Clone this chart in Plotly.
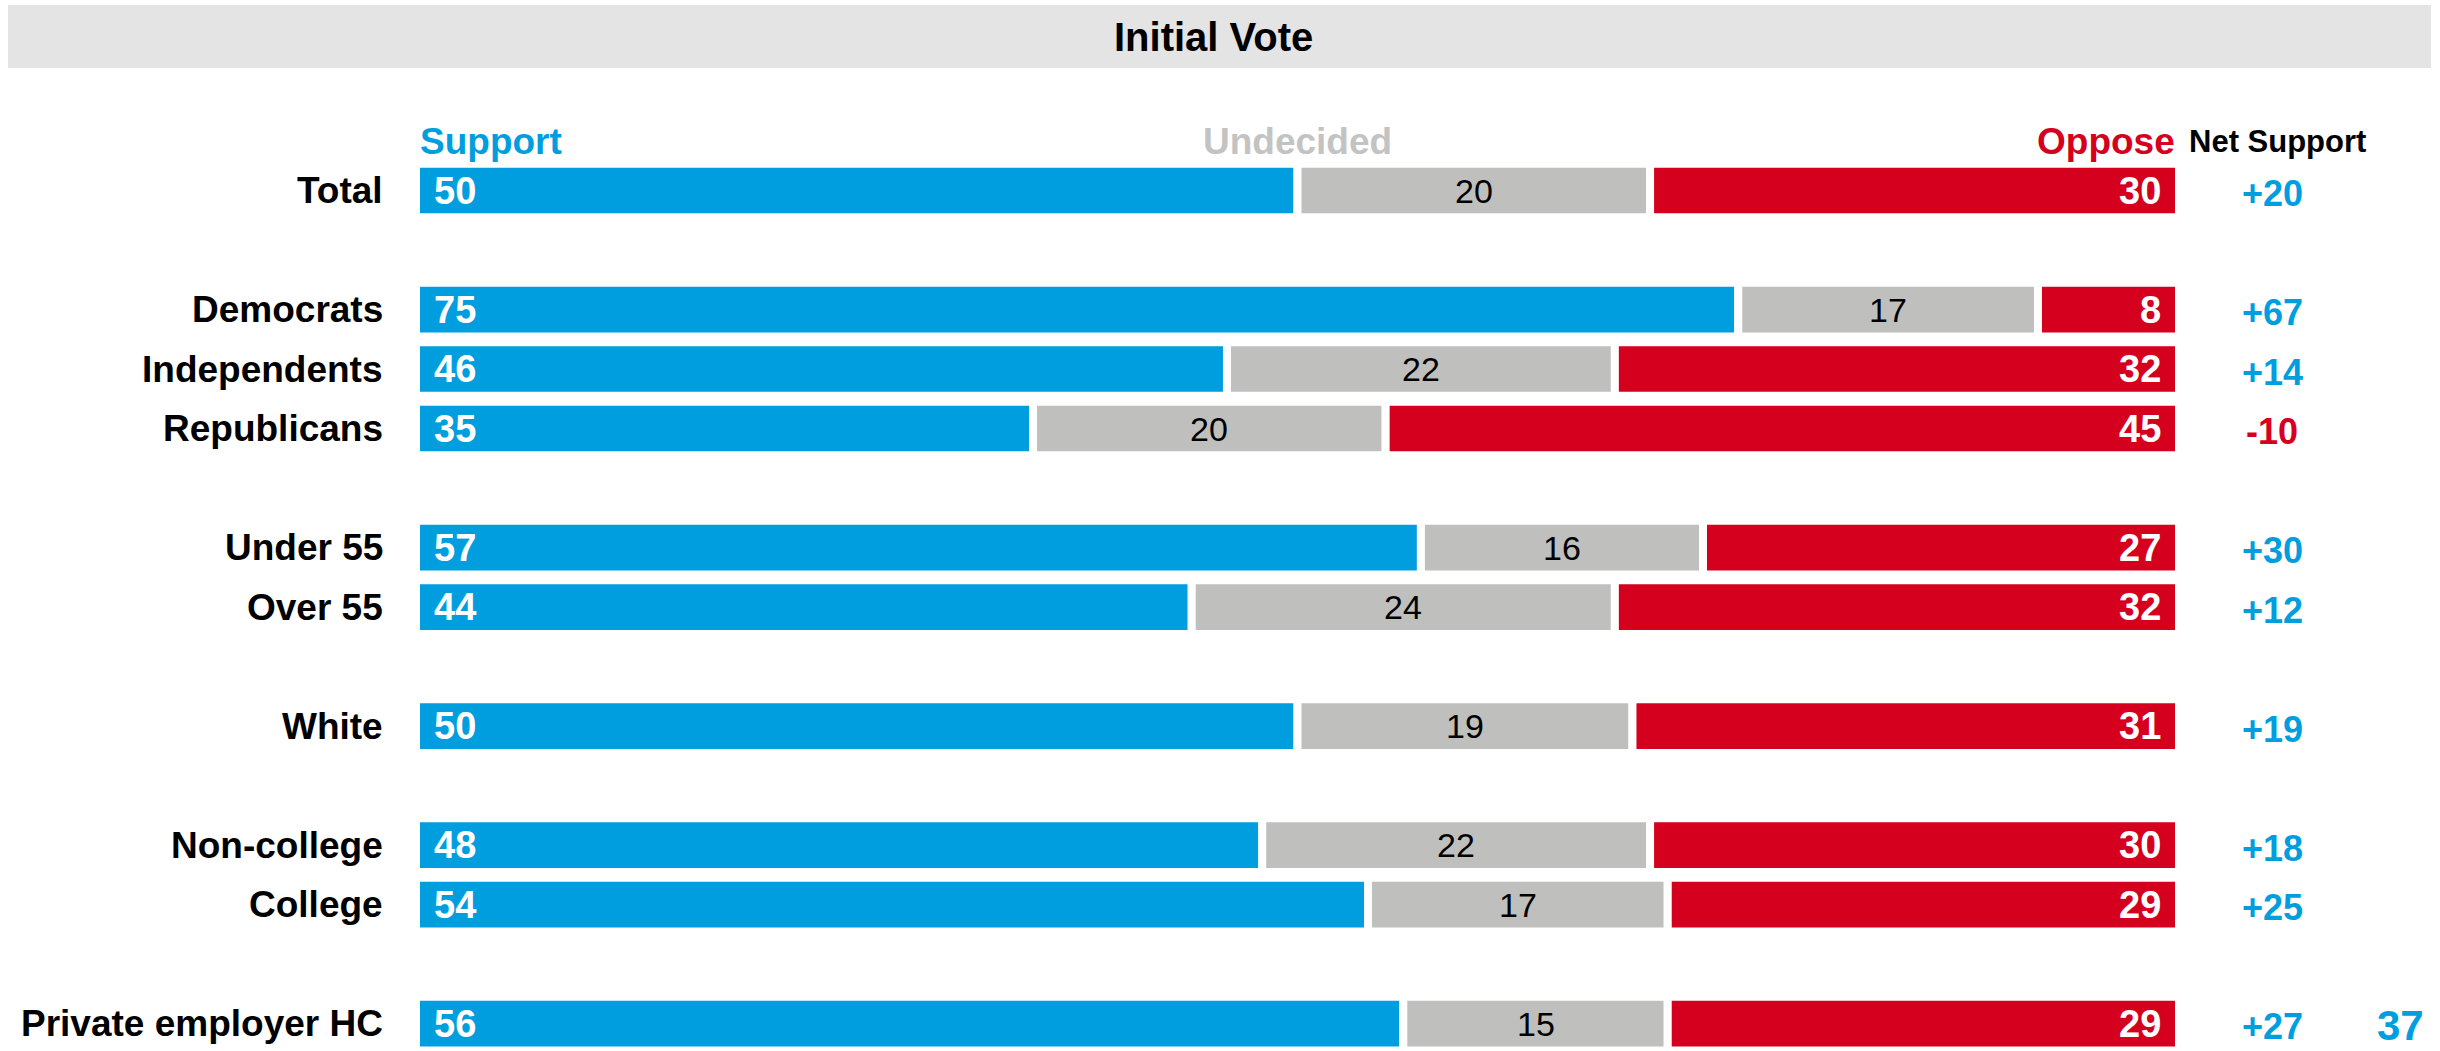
import plotly.graph_objects as go

# ---------------- data ----------------
categories = ["Total", "Democrats", "Independents", "Republicans", "Under 55", "Over 55",
              "White", "Non-college", "College", "Private employer HC"]
group_sizes = [1, 3, 2, 1, 2, 1]
support = [50, 75, 46, 35, 57, 44, 50, 48, 54, 56]
undecided = [20, 17, 22, 20, 16, 24, 19, 22, 17, 15]
oppose = [30, 8, 32, 45, 27, 32, 31, 30, 29, 29]
net_support = [20, 67, 14, -10, 30, 12, 19, 18, 25, 27]
title_text = "Initial Vote"
page_number = "37"

# ---------------- style ----------------
W, H = 2440, 1051
BLUE = "#009EDF"
GRAY = "#BFBFBD"
RED = "#D5001E"
HEAD_GRAY = "#C3C3C3"
FONT = "Liberation Sans, Arial, sans-serif"

# row slots: one empty slot between groups
slots = []
s = 0
for gi, n in enumerate(group_sizes):
    for _ in range(n):
        slots.append(s)
        s += 1
    s += 1

y0_px, unit_px = 190.6, 59.5
def px_to_slot(p):
    return (p - y0_px) / unit_px

def py(p):
    return 1 - p / H

fig = go.Figure()
bar_w = 0.9
line = dict(color="white", width=8)
starts_u = [a for a in support]
starts_o = [a + b for a, b in zip(support, undecided)]
fig.add_trace(go.Bar(y=slots, x=support, orientation="h", marker=dict(color=BLUE, line=line),
                     width=bar_w, hoverinfo="skip"))
fig.add_trace(go.Bar(y=slots, x=undecided, base=starts_u, orientation="h",
                     marker=dict(color=GRAY, line=line), width=bar_w, hoverinfo="skip"))
fig.add_trace(go.Bar(y=slots, x=oppose, base=starts_o, orientation="h",
                     marker=dict(color=RED, line=line), width=bar_w, hoverinfo="skip"))

ann = []
for i, cat in enumerate(categories):
    yv = slots[i]
    ann.append(dict(x=385 / W, xref="paper", y=yv, yref="y", text=f"<b>{cat}</b>",
                    xanchor="right", yanchor="middle", showarrow=False,
                    font=dict(family=FONT, size=37, color="black")))
    ann.append(dict(x=0, xref="x", y=yv, yref="y", text=f"<b>{support[i]}</b>",
                    xanchor="left", yanchor="middle", xshift=16, showarrow=False,
                    font=dict(family=FONT, size=38, color="white")))
    ann.append(dict(x=starts_u[i] + undecided[i] / 2, xref="x", y=yv, yref="y",
                    text=f"{undecided[i]}", xanchor="center", yanchor="middle", showarrow=False,
                    font=dict(family=FONT, size=34, color="black")))
    ann.append(dict(x=100, xref="x", y=yv, yref="y", text=f"<b>{oppose[i]}</b>",
                    xanchor="right", yanchor="middle", xshift=-16, showarrow=False,
                    font=dict(family=FONT, size=38, color="white")))
    n = net_support[i]
    ann.append(dict(x=2272 / W, xref="paper", y=yv, yref="y", yshift=-3,
                    text=f"<b>{n:+d}</b>", xanchor="center", yanchor="middle", showarrow=False,
                    font=dict(family=FONT, size=36, color=BLUE if n >= 0 else RED)))

# headers
ann.append(dict(x=0, xref="x", y=py(141), yref="paper", text="<b>Support</b>", xanchor="left",
                xshift=2, yanchor="middle", showarrow=False, font=dict(family=FONT, size=37, color=BLUE)))
ann.append(dict(x=50, xref="x", y=py(141), yref="paper", text="<b>Undecided</b>", xanchor="center",
                yanchor="middle", showarrow=False, font=dict(family=FONT, size=37, color=HEAD_GRAY)))
ann.append(dict(x=100, xref="x", y=py(141), yref="paper", text="<b>Oppose</b>", xanchor="right",
                xshift=-2, yanchor="middle", showarrow=False, font=dict(family=FONT, size=37, color=RED)))
ann.append(dict(x=2277 / W, xref="paper", y=py(141), yref="paper", text="<b>Net Support</b>",
                xanchor="center", yanchor="middle", showarrow=False,
                font=dict(family=FONT, size=31, color="black")))
# title
ann.append(dict(x=1213 / W, xref="paper", y=py(37), yref="paper", text=f"<b>{title_text}</b>",
                xanchor="center", yanchor="middle", showarrow=False,
                font=dict(family=FONT, size=40, color="black")))
# page number
ann.append(dict(x=2400 / W, xref="paper", y=0, yref="paper", text=f"<b>{page_number}</b>",
                xanchor="center", yanchor="bottom", showarrow=False,
                font=dict(family=FONT, size=42, color=BLUE)))

fig.update_layout(
    width=W, height=H, margin=dict(l=0, r=0, t=0, b=0),
    paper_bgcolor="white", plot_bgcolor="white",
    barmode="overlay", showlegend=False,
    xaxis=dict(domain=[416 / W, 2179 / W], range=[0, 100], visible=False, fixedrange=True),
    yaxis=dict(domain=[0, 1], range=[px_to_slot(H), px_to_slot(0)], visible=False, fixedrange=True),
    annotations=ann,
    shapes=[dict(type="rect", xref="paper", yref="paper", x0=8 / W, x1=2431 / W,
                 y0=py(68), y1=py(5), fillcolor="#E4E4E4", line=dict(width=0), layer="below")],
)

fig.write_html("out.html", config={"displayModeBar": False})
